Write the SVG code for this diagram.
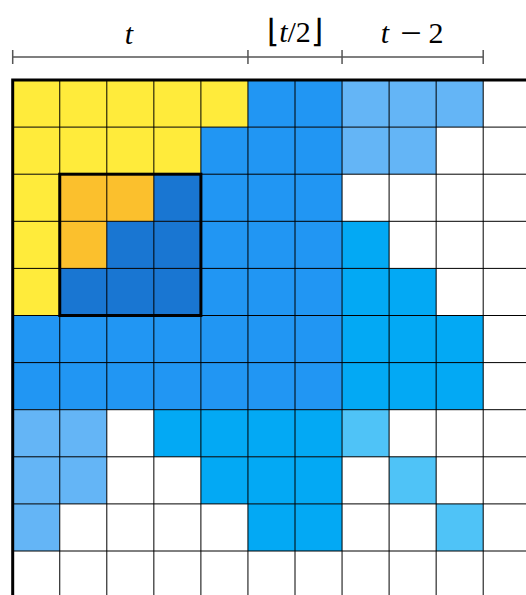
<svg xmlns="http://www.w3.org/2000/svg" width="526" height="595" viewBox="0 0 526 595">
<style>
.Y{fill:#FFEB3B}.O{fill:#FBC02D}.D{fill:#1976D2}.B{fill:#2196F3}.LB{fill:#64B5F6}.C{fill:#03A9F4}.LC{fill:#4FC3F7}
.g{stroke:#000;stroke-width:1;fill:none}
.sc{stroke:#555;stroke-width:1.5;fill:none}
.lbl{font-family:"Liberation Serif","DejaVu Serif",serif;font-size:30px;fill:#000;text-anchor:middle}
.it{font-style:italic}
.br{font-family:"DejaVu Sans",sans-serif;font-size:32px}
</style>
<rect width="526" height="595" fill="#fff"/>
<g id="cells">
<rect class="Y" x="12.7" y="80" width="235.25" height="47.1"/>
<rect class="Y" x="12.7" y="127.1" width="188.2" height="47.1"/>
<rect class="Y" x="12.7" y="174.2" width="47.05" height="141.3"/>
<rect class="O" x="59.75" y="174.2" width="94.1" height="47.1"/>
<rect class="O" x="59.75" y="221.3" width="47.05" height="47.1"/>
<rect class="D" x="153.85" y="174.2" width="47.05" height="47.1"/>
<rect class="D" x="106.8" y="221.3" width="94.1" height="47.1"/>
<rect class="D" x="59.75" y="268.4" width="141.15" height="47.1"/>
<rect class="B" x="247.95" y="80" width="94.1" height="47.1"/>
<rect class="B" x="200.9" y="127.1" width="141.15" height="188.4"/>
<rect class="B" x="12.7" y="315.5" width="329.35" height="94.2"/>
<rect class="LB" x="342.05" y="80" width="141.15" height="47.1"/>
<rect class="LB" x="342.05" y="127.1" width="94.1" height="47.1"/>
<rect class="LB" x="12.7" y="409.7" width="94.1" height="94.2"/>
<rect class="LB" x="12.7" y="503.9" width="47.05" height="47.1"/>
<rect class="C" x="342.05" y="221.3" width="47.05" height="47.1"/>
<rect class="C" x="342.05" y="268.4" width="94.1" height="47.1"/>
<rect class="C" x="342.05" y="315.5" width="141.15" height="94.2"/>
<rect class="C" x="153.85" y="409.7" width="188.2" height="47.1"/>
<rect class="C" x="200.9" y="456.8" width="141.15" height="47.1"/>
<rect class="C" x="247.95" y="503.9" width="94.1" height="47.1"/>
<rect class="LC" x="342.05" y="409.7" width="47.05" height="47.1"/>
<rect class="LC" x="389.1" y="456.8" width="47.05" height="47.1"/>
<rect class="LC" x="436.15" y="503.9" width="47.05" height="47.1"/>
</g>
<g id="grid" class="g">
<path d="M59.75 80V595M106.8 80V595M153.85 80V595M200.9 80V595M247.95 80V595M295 80V595M342.05 80V595M389.1 80V595M436.15 80V595M483.2 80V595"/>
<path d="M12.7 127.1H526M12.7 174.2H526M12.7 221.3H526M12.7 268.4H526M12.7 315.5H526M12.7 362.6H526M12.7 409.7H526M12.7 456.8H526M12.7 503.9H526M12.7 551H526"/>
</g>
<g id="border">
<path d="M11.2 80H526M12.7 78.5V595" stroke="#000" stroke-width="3" fill="none"/>
<rect id="highlight" x="59.75" y="174.2" width="141.15" height="141.3" stroke="#000" stroke-width="3" fill="none"/>
</g>
<g id="scale">
<path class="sc" d="M12.7 57H483.2M12.7 50V64M247.95 50V64M342.05 50V64M483.2 50V64"/>
<text class="lbl it" x="129" y="44">t</text>
<text class="lbl" x="295" y="42"><tspan class="br">⌊</tspan><tspan class="it">t</tspan>/2<tspan class="br">⌋</tspan></text>
<text class="lbl" y="43"><tspan class="it" x="385">t</tspan><tspan x="411" y="46" font-size="38">−</tspan><tspan x="436" y="43">2</tspan></text>
</g>
</svg>
